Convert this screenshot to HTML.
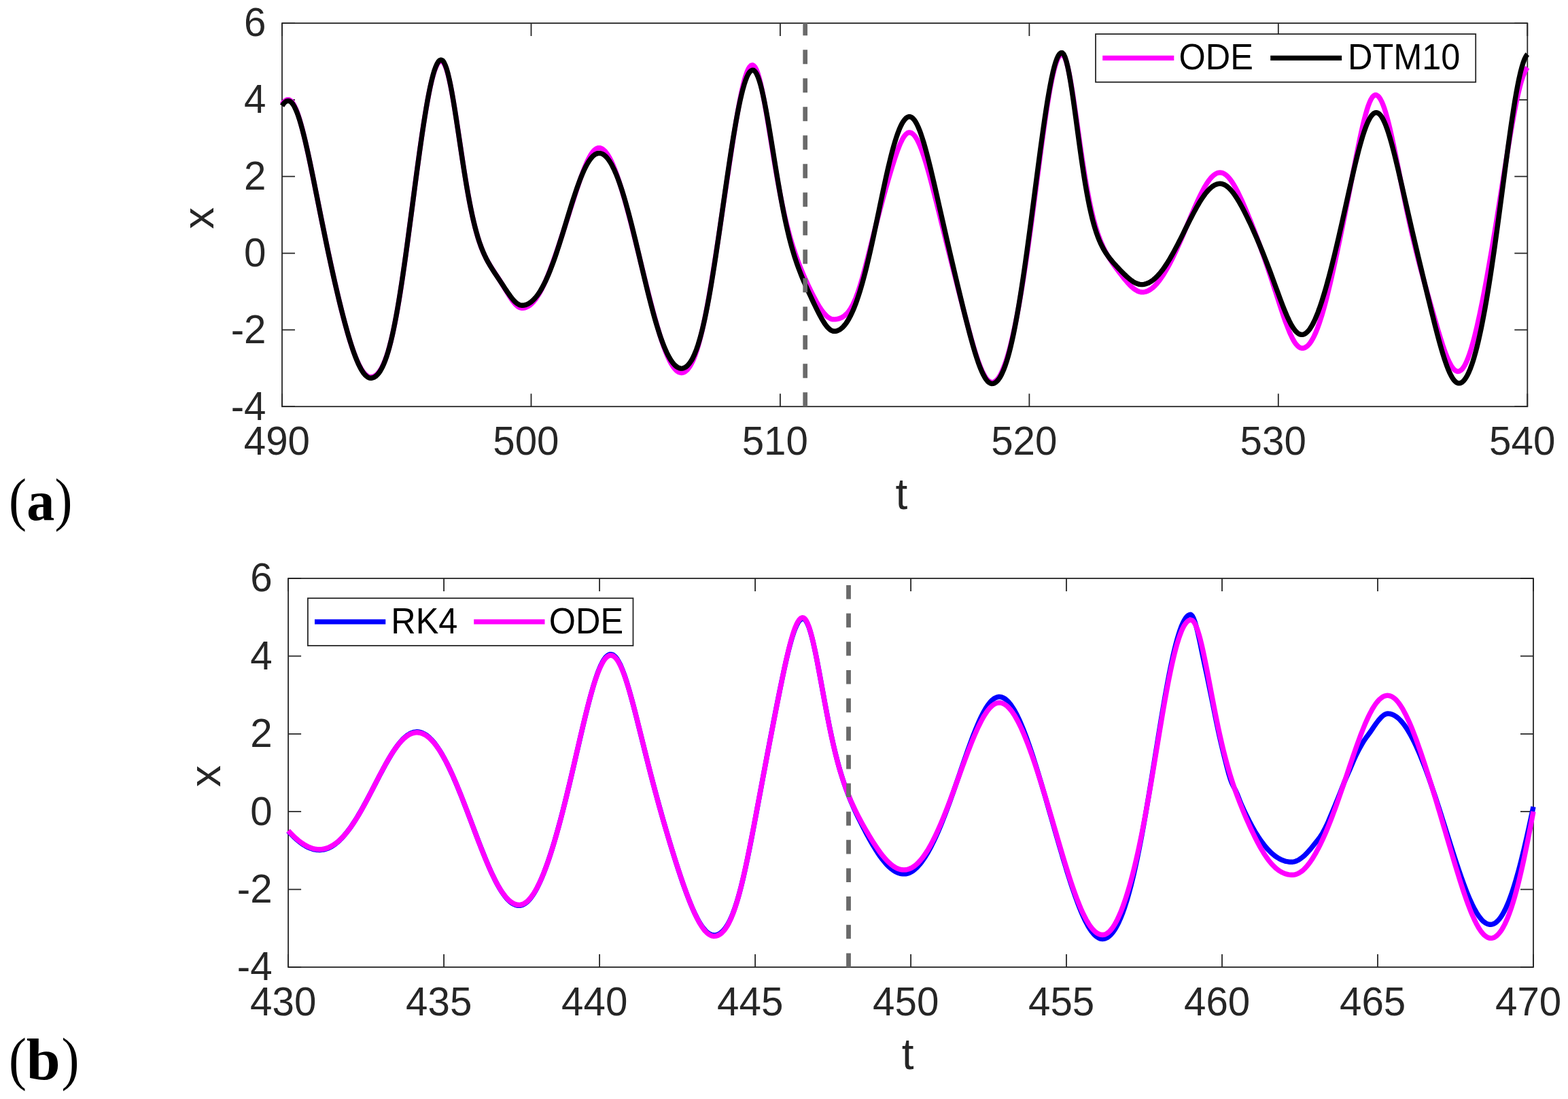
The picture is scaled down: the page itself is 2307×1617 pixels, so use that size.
<!DOCTYPE html>
<html lang="en">
<head>
<meta charset="utf-8">
<title>Figure: ODE vs DTM10 and RK4 vs ODE time series</title>
<style>
html,body{margin:0;padding:0;background:#fff;}
body{width:2307px;height:1617px;overflow:hidden;}
svg{display:block;}
</style>
</head>
<body>
<svg xmlns="http://www.w3.org/2000/svg" width="2307" height="1617" viewBox="0 0 2307 1617">
<rect width="2307" height="1617" fill="#fff"/>

<g id="panel-a">
<path d="M415.0 598.2V579.2M415.0 34.1V53.1M781.5 598.2V579.2M781.5 34.1V53.1M1147.9 598.2V579.2M1147.9 34.1V53.1M1514.4 598.2V579.2M1514.4 34.1V53.1M1880.8 598.2V579.2M1880.8 34.1V53.1M2247.3 598.2V579.2M2247.3 34.1V53.1M415.0 598.2H434.0M2247.3 598.2H2228.3M415.0 485.4H434.0M2247.3 485.4H2228.3M415.0 372.6H434.0M2247.3 372.6H2228.3M415.0 259.7H434.0M2247.3 259.7H2228.3M415.0 146.9H434.0M2247.3 146.9H2228.3M415.0 34.1H434.0M2247.3 34.1H2228.3" fill="none" stroke="#262626" stroke-width="1.8"/>
<rect x="415.0" y="34.1" width="1832.3" height="564.1" fill="none" stroke="#262626" stroke-width="1.8"/>
<g font-family='"Liberation Sans", Arial, Helvetica, sans-serif' font-size="58.3" fill="#262626">
<text x="407.4" y="669.1" text-anchor="middle">490</text>
<text x="773.9" y="669.1" text-anchor="middle">500</text>
<text x="1140.3" y="669.1" text-anchor="middle">510</text>
<text x="1506.8" y="669.1" text-anchor="middle">520</text>
<text x="1873.2" y="669.1" text-anchor="middle">530</text>
<text x="2239.7" y="669.1" text-anchor="middle">540</text>
<text x="391.5" y="617.5" text-anchor="end">-4</text>
<text x="391.5" y="504.7" text-anchor="end">-2</text>
<text x="391.5" y="391.9" text-anchor="end">0</text>
<text x="391.5" y="279.0" text-anchor="end">2</text>
<text x="391.5" y="166.2" text-anchor="end">4</text>
<text x="391.5" y="53.4" text-anchor="end">6</text>
</g>
<g fill="none" stroke-width="7.4" stroke-linejoin="round" stroke-linecap="butt">
<path stroke="#ff00ff" d="M415.0 153.4L417.0 150.7L419.0 148.7L421.0 147.3L423.0 146.6L425.0 146.6L427.0 147.5L429.0 149.2L431.0 151.8L433.0 155.3L435.0 159.5L437.0 164.4L439.0 170.1L441.0 176.4L443.0 183.4L445.0 190.8L447.0 198.8L449.0 207.2L451.0 215.9L453.0 225.0L455.0 234.3L457.0 243.8L459.0 253.5L461.0 263.3L463.0 273.2L465.0 283.2L467.0 293.1L469.0 303.1L471.0 313.0L473.0 322.9L475.0 332.7L477.0 342.5L479.0 352.2L481.0 361.7L483.0 371.2L485.0 380.6L487.0 389.8L489.0 398.9L491.0 407.9L493.0 416.7L495.0 425.4L497.0 434.0L499.0 442.4L501.0 450.6L503.0 458.6L505.0 466.4L507.0 474.0L509.0 481.3L511.0 488.4L513.0 495.3L515.0 501.8L517.0 508.1L519.0 514.0L521.0 519.6L523.0 524.9L525.0 529.7L527.0 534.2L529.0 538.3L531.0 541.9L533.0 545.2L535.0 547.9L537.0 550.2L539.0 552.1L541.0 553.5L543.0 554.4L545.0 554.8L547.0 554.7L549.0 554.2L551.0 553.4L553.0 552.0L555.0 550.3L557.0 548.0L559.0 545.3L561.0 542.1L563.0 538.3L565.0 533.9L567.0 529.0L569.0 523.3L571.0 517.1L573.0 510.1L575.0 502.5L577.0 494.1L579.0 485.0L581.0 475.3L583.0 464.8L585.0 453.7L587.0 441.9L589.0 429.6L591.0 416.6L593.0 403.2L595.0 389.3L597.0 375.1L599.0 360.5L601.0 345.6L603.0 330.6L605.0 315.4L607.0 300.2L609.0 284.9L611.0 269.8L613.0 254.8L615.0 240.0L617.0 225.4L619.0 211.3L621.0 197.5L623.0 184.3L625.0 171.6L627.0 159.6L629.0 148.3L631.0 137.8L633.0 128.1L635.0 119.4L637.0 111.7L639.0 105.1L641.0 99.6L643.0 95.2L645.0 92.1L647.0 90.2L649.0 89.6L651.0 90.4L653.0 92.8L655.0 96.8L657.0 102.2L659.0 109.1L661.0 117.3L663.0 126.6L665.0 137.0L667.0 148.3L669.0 160.3L671.0 172.9L673.0 185.9L675.0 199.2L677.0 212.6L679.0 225.9L681.0 239.0L683.0 251.8L685.0 264.2L687.0 276.1L689.0 287.5L691.0 298.3L693.0 308.4L695.0 317.8L697.0 326.6L699.0 334.7L701.0 342.2L703.0 349.1L705.0 355.3L707.0 361.1L709.0 366.4L711.0 371.2L713.0 375.6L715.0 379.7L717.0 383.5L719.0 387.0L721.0 390.4L723.0 393.6L725.0 396.7L727.0 399.8L729.0 402.9L731.0 405.9L733.0 409.0L735.0 412.1L737.0 415.3L739.0 418.5L741.0 421.8L743.0 425.1L745.0 428.4L747.0 431.7L749.0 434.9L751.0 438.0L753.0 441.0L755.0 443.7L757.0 446.2L759.0 448.4L761.0 450.2L763.0 451.7L765.0 452.7L767.0 453.2L769.0 453.3L771.0 453.1L773.0 452.6L775.0 451.8L777.0 450.8L779.0 449.5L781.0 447.9L783.0 446.0L785.0 443.9L787.0 441.5L789.0 438.8L791.0 435.8L793.0 432.6L795.0 429.1L797.0 425.4L799.0 421.4L801.0 417.1L803.0 412.6L805.0 407.9L807.0 403.0L809.0 397.9L811.0 392.6L813.0 387.2L815.0 381.6L817.0 375.9L819.0 370.1L821.0 364.2L823.0 358.2L825.0 352.1L827.0 346.0L829.0 339.8L831.0 333.6L833.0 327.4L835.0 321.1L837.0 314.8L839.0 308.5L841.0 302.3L843.0 296.1L845.0 289.9L847.0 283.7L849.0 277.7L851.0 271.7L853.0 265.9L855.0 260.3L857.0 254.8L859.0 249.5L861.0 244.6L863.0 239.9L865.0 235.5L867.0 231.6L869.0 228.1L871.0 225.0L873.0 222.4L875.0 220.4L877.0 218.9L879.0 218.0L881.0 217.6L883.0 217.8L885.0 218.5L887.0 219.7L889.0 221.3L891.0 223.4L893.0 226.0L895.0 229.1L897.0 232.5L899.0 236.4L901.0 240.7L903.0 245.4L905.0 250.4L907.0 255.7L909.0 261.4L911.0 267.4L913.0 273.6L915.0 280.1L917.0 286.9L919.0 293.8L921.0 301.0L923.0 308.3L925.0 315.8L927.0 323.4L929.0 331.1L931.0 339.0L933.0 346.9L935.0 354.9L937.0 363.0L939.0 371.1L941.0 379.2L943.0 387.4L945.0 395.5L947.0 403.7L949.0 411.8L951.0 419.8L953.0 427.8L955.0 435.7L957.0 443.4L959.0 451.1L961.0 458.6L963.0 466.0L965.0 473.1L967.0 480.1L969.0 486.8L971.0 493.3L973.0 499.6L975.0 505.5L977.0 511.2L979.0 516.5L981.0 521.4L983.0 526.0L985.0 530.2L987.0 534.0L989.0 537.4L991.0 540.4L993.0 542.9L995.0 545.0L997.0 546.6L999.0 547.7L1001.0 548.3L1003.0 548.5L1005.0 548.2L1007.0 547.4L1009.0 546.1L1011.0 544.3L1013.0 541.9L1015.0 539.1L1017.0 535.7L1019.0 531.7L1021.0 527.1L1023.0 521.9L1025.0 516.1L1027.0 509.7L1029.0 502.6L1031.0 494.9L1033.0 486.6L1035.0 477.7L1037.0 468.2L1039.0 458.2L1041.0 447.7L1043.0 436.6L1045.0 425.2L1047.0 413.3L1049.0 401.1L1051.0 388.6L1053.0 375.8L1055.0 362.8L1057.0 349.7L1059.0 336.4L1061.0 323.0L1063.0 309.5L1065.0 296.0L1067.0 282.4L1069.0 268.9L1071.0 255.5L1073.0 242.1L1075.0 228.9L1077.0 215.9L1079.0 203.1L1081.0 190.6L1083.0 178.5L1085.0 166.8L1087.0 155.7L1089.0 145.2L1091.0 135.5L1093.0 126.7L1095.0 118.7L1097.0 111.9L1099.0 106.1L1101.0 101.5L1103.0 98.3L1105.0 96.3L1107.0 95.7L1109.0 96.6L1111.0 98.9L1113.0 102.8L1115.0 108.1L1117.0 114.7L1119.0 122.6L1121.0 131.5L1123.0 141.4L1125.0 152.0L1127.0 163.3L1129.0 175.0L1131.0 187.1L1133.0 199.4L1135.0 211.7L1137.0 224.0L1139.0 236.2L1141.0 248.0L1143.0 259.6L1145.0 270.8L1147.0 281.5L1149.0 291.8L1151.0 301.6L1153.0 311.0L1155.0 319.9L1157.0 328.3L1159.0 336.2L1161.0 343.8L1163.0 350.9L1165.0 357.7L1167.0 364.1L1169.0 370.2L1171.0 376.0L1173.0 381.5L1175.0 386.8L1177.0 392.0L1179.0 396.9L1181.0 401.7L1183.0 406.4L1185.0 410.9L1187.0 415.3L1189.0 419.7L1191.0 423.9L1193.0 428.0L1195.0 432.1L1197.0 436.0L1199.0 439.8L1201.0 443.5L1203.0 447.0L1205.0 450.4L1207.0 453.5L1209.0 456.5L1211.0 459.2L1213.0 461.6L1215.0 463.8L1217.0 465.7L1219.0 467.2L1221.0 468.4L1223.0 469.3L1225.0 469.8L1227.0 469.9L1229.0 469.8L1231.0 469.6L1233.0 469.2L1235.0 468.6L1237.0 467.8L1239.0 466.9L1241.0 465.6L1243.0 464.1L1245.0 462.3L1247.0 460.2L1249.0 457.7L1251.0 454.8L1253.0 451.4L1255.0 447.6L1257.0 443.3L1259.0 438.6L1261.0 433.4L1263.0 427.7L1265.0 421.6L1267.0 415.1L1269.0 408.2L1271.0 401.0L1273.0 393.6L1275.0 385.9L1277.0 378.1L1279.0 370.1L1281.0 362.1L1283.0 354.1L1285.0 346.2L1287.0 338.2L1289.0 330.4L1291.0 322.6L1293.0 315.0L1295.0 307.4L1297.0 300.0L1299.0 292.6L1301.0 285.4L1303.0 278.2L1305.0 271.2L1307.0 264.2L1309.0 257.4L1311.0 250.7L1313.0 244.2L1315.0 237.8L1317.0 231.7L1319.0 225.8L1321.0 220.3L1323.0 215.1L1325.0 210.4L1327.0 206.3L1329.0 202.6L1331.0 199.7L1333.0 197.4L1335.0 195.8L1337.0 195.0L1339.0 195.0L1341.0 195.6L1343.0 197.0L1345.0 199.0L1347.0 201.6L1349.0 204.9L1351.0 208.8L1353.0 213.2L1355.0 218.1L1357.0 223.6L1359.0 229.4L1361.0 235.7L1363.0 242.3L1365.0 249.2L1367.0 256.3L1369.0 263.7L1371.0 271.3L1373.0 279.0L1375.0 286.8L1377.0 294.7L1379.0 302.7L1381.0 310.7L1383.0 318.7L1385.0 326.8L1387.0 334.8L1389.0 342.8L1391.0 350.8L1393.0 358.8L1395.0 366.8L1397.0 374.7L1399.0 382.7L1401.0 390.6L1403.0 398.5L1405.0 406.4L1407.0 414.2L1409.0 422.1L1411.0 430.0L1413.0 437.8L1415.0 445.6L1417.0 453.4L1419.0 461.1L1421.0 468.7L1423.0 476.3L1425.0 483.8L1427.0 491.1L1429.0 498.3L1431.0 505.3L1433.0 512.1L1435.0 518.6L1437.0 524.8L1439.0 530.7L1441.0 536.1L1443.0 541.2L1445.0 545.8L1447.0 549.9L1449.0 553.5L1451.0 556.5L1453.0 558.9L1455.0 560.7L1457.0 561.9L1459.0 562.5L1461.0 562.4L1463.0 561.7L1465.0 560.4L1467.0 558.5L1469.0 556.0L1471.0 552.9L1473.0 549.2L1475.0 544.9L1477.0 540.0L1479.0 534.6L1481.0 528.6L1483.0 522.0L1485.0 514.9L1487.0 507.2L1489.0 498.9L1491.0 490.2L1493.0 480.8L1495.0 471.0L1497.0 460.7L1499.0 449.8L1501.0 438.4L1503.0 426.6L1505.0 414.3L1507.0 401.5L1509.0 388.3L1511.0 374.7L1513.0 360.7L1515.0 346.3L1517.0 331.7L1519.0 316.8L1521.0 301.6L1523.0 286.3L1525.0 271.0L1527.0 255.6L1529.0 240.2L1531.0 225.0L1533.0 210.1L1535.0 195.4L1537.0 181.2L1539.0 167.5L1541.0 154.5L1543.0 142.2L1545.0 130.7L1547.0 120.2L1549.0 110.8L1551.0 102.5L1553.0 95.3L1555.0 89.5L1557.0 85.0L1559.0 82.0L1561.0 80.3L1563.0 80.1L1565.0 81.9L1567.0 85.6L1569.0 91.2L1571.0 98.6L1573.0 107.7L1575.0 118.1L1577.0 129.8L1579.0 142.4L1581.0 155.7L1583.0 169.5L1585.0 183.6L1587.0 197.8L1589.0 211.9L1591.0 225.7L1593.0 239.0L1595.0 251.9L1597.0 264.1L1599.0 275.7L1601.0 286.5L1603.0 296.7L1605.0 306.1L1607.0 314.8L1609.0 322.9L1611.0 330.2L1613.0 337.0L1615.0 343.2L1617.0 348.9L1619.0 354.1L1621.0 358.9L1623.0 363.3L1625.0 367.4L1627.0 371.2L1629.0 374.8L1631.0 378.1L1633.0 381.3L1635.0 384.3L1637.0 387.3L1639.0 390.1L1641.0 392.9L1643.0 395.6L1645.0 398.3L1647.0 400.9L1649.0 403.5L1651.0 406.1L1653.0 408.6L1655.0 411.1L1657.0 413.5L1659.0 415.8L1661.0 418.0L1663.0 420.1L1665.0 422.0L1667.0 423.8L1669.0 425.4L1671.0 426.7L1673.0 427.9L1675.0 428.8L1677.0 429.4L1679.0 429.8L1681.0 429.9L1683.0 429.7L1685.0 429.4L1687.0 428.8L1689.0 427.9L1691.0 426.9L1693.0 425.6L1695.0 424.1L1697.0 422.5L1699.0 420.6L1701.0 418.5L1703.0 416.2L1705.0 413.7L1707.0 411.0L1709.0 408.2L1711.0 405.2L1713.0 402.0L1715.0 398.7L1717.0 395.2L1719.0 391.6L1721.0 387.9L1723.0 384.0L1725.0 380.0L1727.0 375.9L1729.0 371.7L1731.0 367.4L1733.0 363.0L1735.0 358.5L1737.0 354.0L1739.0 349.4L1741.0 344.7L1743.0 340.0L1745.0 335.3L1747.0 330.5L1749.0 325.8L1751.0 321.0L1753.0 316.3L1755.0 311.6L1757.0 307.0L1759.0 302.4L1761.0 298.0L1763.0 293.6L1765.0 289.4L1767.0 285.3L1769.0 281.4L1771.0 277.6L1773.0 274.1L1775.0 270.8L1777.0 267.8L1779.0 265.0L1781.0 262.5L1783.0 260.2L1785.0 258.4L1787.0 256.8L1789.0 255.5L1791.0 254.6L1793.0 254.1L1795.0 253.9L1797.0 254.1L1799.0 254.6L1801.0 255.5L1803.0 256.8L1805.0 258.5L1807.0 260.4L1809.0 262.7L1811.0 265.3L1813.0 268.2L1815.0 271.4L1817.0 274.8L1819.0 278.5L1821.0 282.3L1823.0 286.3L1825.0 290.5L1827.0 294.9L1829.0 299.3L1831.0 303.9L1833.0 308.6L1835.0 313.4L1837.0 318.3L1839.0 323.2L1841.0 328.2L1843.0 333.3L1845.0 338.4L1847.0 343.6L1849.0 348.9L1851.0 354.2L1853.0 359.6L1855.0 365.1L1857.0 370.7L1859.0 376.3L1861.0 382.0L1863.0 387.8L1865.0 393.6L1867.0 399.6L1869.0 405.6L1871.0 411.7L1873.0 417.8L1875.0 424.0L1877.0 430.2L1879.0 436.4L1881.0 442.6L1883.0 448.8L1885.0 454.8L1887.0 460.8L1889.0 466.7L1891.0 472.4L1893.0 477.8L1895.0 483.0L1897.0 487.9L1899.0 492.5L1901.0 496.7L1903.0 500.5L1905.0 503.8L1907.0 506.6L1909.0 508.8L1911.0 510.6L1913.0 511.7L1915.0 512.3L1917.0 512.3L1919.0 511.9L1921.0 510.9L1923.0 509.5L1925.0 507.7L1927.0 505.3L1929.0 502.5L1931.0 499.2L1933.0 495.4L1935.0 491.2L1937.0 486.5L1939.0 481.3L1941.0 475.7L1943.0 469.7L1945.0 463.3L1947.0 456.5L1949.0 449.3L1951.0 441.7L1953.0 433.9L1955.0 425.7L1957.0 417.3L1959.0 408.7L1961.0 399.8L1963.0 390.8L1965.0 381.6L1967.0 372.2L1969.0 362.8L1971.0 353.2L1973.0 343.5L1975.0 333.7L1977.0 323.8L1979.0 313.8L1981.0 303.8L1983.0 293.7L1985.0 283.5L1987.0 273.3L1989.0 263.1L1991.0 252.8L1993.0 242.6L1995.0 232.5L1997.0 222.5L1999.0 212.7L2001.0 203.1L2003.0 193.9L2005.0 185.1L2007.0 176.8L2009.0 169.2L2011.0 162.2L2013.0 156.0L2015.0 150.7L2017.0 146.4L2019.0 143.1L2021.0 140.9L2023.0 139.8L2025.0 139.8L2027.0 140.9L2029.0 142.9L2031.0 145.9L2033.0 149.7L2035.0 154.5L2037.0 160.1L2039.0 166.4L2041.0 173.5L2043.0 181.2L2045.0 189.4L2047.0 198.1L2049.0 207.3L2051.0 216.7L2053.0 226.4L2055.0 236.3L2057.0 246.3L2059.0 256.4L2061.0 266.4L2063.0 276.4L2065.0 286.3L2067.0 296.1L2069.0 305.7L2071.0 315.1L2073.0 324.3L2075.0 333.3L2077.0 342.1L2079.0 350.7L2081.0 359.0L2083.0 367.2L2085.0 375.2L2087.0 383.0L2089.0 390.7L2091.0 398.2L2093.0 405.6L2095.0 412.9L2097.0 420.2L2099.0 427.3L2101.0 434.5L2103.0 441.6L2105.0 448.6L2107.0 455.6L2109.0 462.6L2111.0 469.5L2113.0 476.4L2115.0 483.2L2117.0 489.9L2119.0 496.4L2121.0 502.7L2123.0 508.8L2125.0 514.6L2127.0 520.1L2129.0 525.2L2131.0 529.9L2133.0 534.0L2135.0 537.7L2137.0 540.7L2139.0 543.2L2141.0 545.0L2143.0 546.1L2145.0 546.5L2147.0 546.2L2149.0 545.1L2151.0 543.4L2153.0 540.8L2155.0 537.6L2157.0 533.7L2159.0 529.1L2161.0 523.9L2163.0 518.0L2165.0 511.6L2167.0 504.6L2169.0 497.1L2171.0 489.2L2173.0 480.8L2175.0 471.9L2177.0 462.7L2179.0 453.1L2181.0 443.2L2183.0 432.9L2185.0 422.4L2187.0 411.6L2189.0 400.5L2191.0 389.2L2193.0 377.7L2195.0 366.0L2197.0 354.1L2199.0 342.0L2201.0 329.8L2203.0 317.5L2205.0 305.0L2207.0 292.4L2209.0 279.8L2211.0 267.2L2213.0 254.5L2215.0 242.0L2217.0 229.5L2219.0 217.2L2221.0 205.1L2223.0 193.3L2225.0 181.9L2227.0 170.8L2229.0 160.3L2231.0 150.3L2233.0 141.0L2235.0 132.4L2237.0 124.6L2239.0 117.6L2241.0 111.6L2243.0 106.6L2245.0 102.6L2247.0 99.7L2247.3 99.3"/>
<path stroke="#000" d="M415.0 155.7L417.0 152.8L419.0 150.6L421.0 149.1L423.0 148.4L425.0 148.4L427.0 149.2L429.0 150.9L431.0 153.4L433.0 156.7L435.0 160.8L437.0 165.5L439.0 171.0L441.0 177.2L443.0 183.9L445.0 191.2L447.0 199.0L449.0 207.2L451.0 215.8L453.0 224.8L455.0 234.0L457.0 243.5L459.0 253.2L461.0 263.0L463.0 272.9L465.0 282.9L467.0 292.9L469.0 302.9L471.0 313.0L473.0 322.9L475.0 332.8L477.0 342.6L479.0 352.3L481.0 362.0L483.0 371.4L485.0 380.8L487.0 390.0L489.0 399.1L491.0 408.1L493.0 416.9L495.0 425.5L497.0 434.0L499.0 442.3L501.0 450.5L503.0 458.4L505.0 466.2L507.0 473.8L509.0 481.1L511.0 488.2L513.0 495.1L515.0 501.7L517.0 508.0L519.0 514.1L521.0 519.8L523.0 525.1L525.0 530.1L527.0 534.8L529.0 539.0L531.0 542.8L533.0 546.2L535.0 549.1L537.0 551.5L539.0 553.4L541.0 554.9L543.0 555.8L545.0 556.3L547.0 556.2L549.0 555.7L551.0 554.8L553.0 553.4L555.0 551.6L557.0 549.3L559.0 546.5L561.0 543.1L563.0 539.2L565.0 534.7L567.0 529.6L569.0 523.9L571.0 517.5L573.0 510.4L575.0 502.6L577.0 494.2L579.0 485.0L581.0 475.1L583.0 464.6L585.0 453.4L587.0 441.6L589.0 429.2L591.0 416.3L593.0 402.9L595.0 389.1L597.0 374.9L599.0 360.4L601.0 345.6L603.0 330.6L605.0 315.5L607.0 300.4L609.0 285.2L611.0 270.1L613.0 255.1L615.0 240.3L617.0 225.8L619.0 211.6L621.0 197.8L623.0 184.5L625.0 171.7L627.0 159.5L629.0 148.0L631.0 137.4L633.0 127.5L635.0 118.7L637.0 110.8L639.0 104.0L641.0 98.4L643.0 93.9L645.0 90.7L647.0 88.7L649.0 88.1L651.0 88.9L653.0 91.4L655.0 95.5L657.0 101.1L659.0 108.1L661.0 116.5L663.0 126.0L665.0 136.6L667.0 148.1L669.0 160.3L671.0 173.1L673.0 186.2L675.0 199.5L677.0 212.9L679.0 226.3L681.0 239.4L683.0 252.1L685.0 264.5L687.0 276.3L689.0 287.6L691.0 298.3L693.0 308.3L695.0 317.7L697.0 326.4L699.0 334.5L701.0 341.9L703.0 348.8L705.0 355.1L707.0 360.9L709.0 366.2L711.0 371.0L713.0 375.5L715.0 379.7L717.0 383.6L719.0 387.2L721.0 390.6L723.0 393.9L725.0 397.1L727.0 400.2L729.0 403.2L731.0 406.2L733.0 409.2L735.0 412.2L737.0 415.2L739.0 418.3L741.0 421.3L743.0 424.4L745.0 427.4L747.0 430.3L749.0 433.2L751.0 436.0L753.0 438.6L755.0 441.0L757.0 443.2L759.0 445.1L761.0 446.7L763.0 447.9L765.0 448.8L767.0 449.2L769.0 449.3L771.0 449.1L773.0 448.7L775.0 448.0L777.0 447.1L779.0 445.9L781.0 444.5L783.0 442.9L785.0 441.0L787.0 438.9L789.0 436.5L791.0 433.9L793.0 431.0L795.0 427.9L797.0 424.5L799.0 420.8L801.0 416.9L803.0 412.8L805.0 408.4L807.0 403.7L809.0 398.9L811.0 393.7L813.0 388.4L815.0 382.9L817.0 377.2L819.0 371.3L821.0 365.2L823.0 359.0L825.0 352.7L827.0 346.3L829.0 339.8L831.0 333.3L833.0 326.7L835.0 320.2L837.0 313.6L839.0 307.1L841.0 300.7L843.0 294.4L845.0 288.3L847.0 282.3L849.0 276.5L851.0 270.9L853.0 265.5L855.0 260.4L857.0 255.6L859.0 251.0L861.0 246.8L863.0 243.0L865.0 239.5L867.0 236.3L869.0 233.5L871.0 231.2L873.0 229.2L875.0 227.6L877.0 226.5L879.0 225.7L881.0 225.4L883.0 225.5L885.0 226.0L887.0 226.9L889.0 228.2L891.0 229.9L893.0 232.0L895.0 234.5L897.0 237.4L899.0 240.6L901.0 244.3L903.0 248.3L905.0 252.7L907.0 257.4L909.0 262.5L911.0 267.9L913.0 273.7L915.0 279.7L917.0 286.1L919.0 292.8L921.0 299.7L923.0 306.9L925.0 314.3L927.0 321.9L929.0 329.7L931.0 337.6L933.0 345.8L935.0 354.0L937.0 362.3L939.0 370.7L941.0 379.1L943.0 387.6L945.0 396.0L947.0 404.4L949.0 412.7L951.0 421.0L953.0 429.1L955.0 437.1L957.0 444.9L959.0 452.5L961.0 460.0L963.0 467.2L965.0 474.1L967.0 480.8L969.0 487.2L971.0 493.3L973.0 499.1L975.0 504.5L977.0 509.6L979.0 514.4L981.0 518.8L983.0 522.9L985.0 526.5L987.0 529.8L989.0 532.7L991.0 535.3L993.0 537.4L995.0 539.1L997.0 540.5L999.0 541.4L1001.0 542.0L1003.0 542.1L1005.0 541.8L1007.0 541.1L1009.0 540.0L1011.0 538.4L1013.0 536.3L1015.0 533.8L1017.0 530.8L1019.0 527.3L1021.0 523.2L1023.0 518.5L1025.0 513.3L1027.0 507.4L1029.0 500.9L1031.0 493.8L1033.0 486.1L1035.0 477.7L1037.0 468.7L1039.0 459.1L1041.0 448.9L1043.0 438.1L1045.0 426.8L1047.0 415.0L1049.0 402.7L1051.0 390.1L1053.0 377.1L1055.0 363.8L1057.0 350.2L1059.0 336.5L1061.0 322.6L1063.0 308.7L1065.0 294.7L1067.0 280.9L1069.0 267.1L1071.0 253.5L1073.0 240.0L1075.0 226.9L1077.0 214.1L1079.0 201.7L1081.0 189.8L1083.0 178.4L1085.0 167.5L1087.0 157.3L1089.0 147.8L1091.0 139.1L1093.0 131.2L1095.0 124.2L1097.0 118.1L1099.0 113.0L1101.0 108.9L1103.0 105.9L1105.0 104.0L1107.0 103.1L1109.0 103.5L1111.0 105.2L1113.0 108.2L1115.0 112.6L1117.0 118.2L1119.0 124.9L1121.0 132.7L1123.0 141.5L1125.0 151.2L1127.0 161.6L1129.0 172.7L1131.0 184.2L1133.0 196.2L1135.0 208.4L1137.0 220.7L1139.0 233.0L1141.0 245.3L1143.0 257.4L1145.0 269.2L1147.0 280.7L1149.0 291.8L1151.0 302.5L1153.0 312.7L1155.0 322.5L1157.0 331.7L1159.0 340.5L1161.0 348.8L1163.0 356.6L1165.0 363.9L1167.0 370.8L1169.0 377.3L1171.0 383.4L1173.0 389.3L1175.0 394.8L1177.0 400.0L1179.0 405.1L1181.0 410.0L1183.0 414.7L1185.0 419.3L1187.0 423.7L1189.0 428.2L1191.0 432.5L1193.0 436.8L1195.0 441.1L1197.0 445.3L1199.0 449.5L1201.0 453.6L1203.0 457.6L1205.0 461.5L1207.0 465.3L1209.0 468.9L1211.0 472.3L1213.0 475.5L1215.0 478.3L1217.0 480.9L1219.0 483.0L1221.0 484.8L1223.0 486.1L1225.0 487.0L1227.0 487.4L1229.0 487.3L1231.0 487.0L1233.0 486.3L1235.0 485.3L1237.0 484.0L1239.0 482.3L1241.0 480.3L1243.0 478.0L1245.0 475.4L1247.0 472.4L1249.0 469.0L1251.0 465.3L1253.0 461.2L1255.0 456.8L1257.0 452.0L1259.0 446.8L1261.0 441.3L1263.0 435.4L1265.0 429.1L1267.0 422.4L1269.0 415.5L1271.0 408.1L1273.0 400.5L1275.0 392.5L1277.0 384.2L1279.0 375.7L1281.0 366.9L1283.0 357.9L1285.0 348.7L1287.0 339.3L1289.0 329.8L1291.0 320.3L1293.0 310.7L1295.0 301.1L1297.0 291.5L1299.0 282.0L1301.0 272.7L1303.0 263.5L1305.0 254.5L1307.0 245.8L1309.0 237.5L1311.0 229.4L1313.0 221.8L1315.0 214.5L1317.0 207.8L1319.0 201.5L1321.0 195.8L1323.0 190.6L1325.0 186.0L1327.0 182.0L1329.0 178.7L1331.0 176.0L1333.0 173.9L1335.0 172.5L1337.0 171.8L1339.0 171.8L1341.0 172.5L1343.0 174.0L1345.0 176.2L1347.0 179.1L1349.0 182.7L1351.0 187.0L1353.0 191.8L1355.0 197.3L1357.0 203.3L1359.0 209.7L1361.0 216.6L1363.0 223.9L1365.0 231.5L1367.0 239.4L1369.0 247.5L1371.0 255.8L1373.0 264.3L1375.0 272.9L1377.0 281.6L1379.0 290.4L1381.0 299.2L1383.0 308.0L1385.0 316.8L1387.0 325.6L1389.0 334.3L1391.0 343.1L1393.0 351.8L1395.0 360.4L1397.0 369.0L1399.0 377.6L1401.0 386.1L1403.0 394.6L1405.0 403.0L1407.0 411.5L1409.0 419.8L1411.0 428.1L1413.0 436.4L1415.0 444.6L1417.0 452.8L1419.0 460.9L1421.0 468.8L1423.0 476.7L1425.0 484.4L1427.0 492.0L1429.0 499.4L1431.0 506.6L1433.0 513.5L1435.0 520.1L1437.0 526.4L1439.0 532.4L1441.0 537.9L1443.0 543.1L1445.0 547.7L1447.0 551.8L1449.0 555.4L1451.0 558.5L1453.0 560.9L1455.0 562.7L1457.0 563.9L1459.0 564.5L1461.0 564.4L1463.0 563.7L1465.0 562.6L1467.0 560.8L1469.0 558.5L1471.0 555.6L1473.0 552.1L1475.0 547.9L1477.0 543.2L1479.0 537.9L1481.0 531.9L1483.0 525.2L1485.0 517.9L1487.0 510.0L1489.0 501.4L1491.0 492.1L1493.0 482.3L1495.0 471.8L1497.0 460.7L1499.0 449.0L1501.0 436.9L1503.0 424.2L1505.0 411.0L1507.0 397.5L1509.0 383.5L1511.0 369.2L1513.0 354.6L1515.0 339.7L1517.0 324.7L1519.0 309.5L1521.0 294.2L1523.0 278.8L1525.0 263.5L1527.0 248.2L1529.0 233.1L1531.0 218.1L1533.0 203.5L1535.0 189.2L1537.0 175.4L1539.0 162.1L1541.0 149.4L1543.0 137.5L1545.0 126.3L1547.0 116.1L1549.0 107.0L1551.0 98.9L1553.0 92.0L1555.0 86.4L1557.0 82.1L1559.0 79.2L1561.0 77.7L1563.0 77.7L1565.0 79.8L1567.0 84.1L1569.0 90.4L1571.0 98.6L1573.0 108.5L1575.0 119.9L1577.0 132.4L1579.0 146.0L1581.0 160.2L1583.0 174.8L1585.0 189.7L1587.0 204.5L1589.0 219.0L1591.0 233.2L1593.0 246.8L1595.0 259.7L1597.0 272.0L1599.0 283.4L1601.0 294.1L1603.0 304.0L1605.0 313.0L1607.0 321.3L1609.0 328.9L1611.0 335.7L1613.0 342.0L1615.0 347.6L1617.0 352.7L1619.0 357.3L1621.0 361.5L1623.0 365.3L1625.0 368.8L1627.0 372.1L1629.0 375.0L1631.0 377.8L1633.0 380.4L1635.0 382.9L1637.0 385.3L1639.0 387.6L1641.0 389.8L1643.0 392.0L1645.0 394.1L1647.0 396.2L1649.0 398.3L1651.0 400.3L1653.0 402.3L1655.0 404.3L1657.0 406.2L1659.0 408.0L1661.0 409.7L1663.0 411.4L1665.0 412.9L1667.0 414.3L1669.0 415.5L1671.0 416.5L1673.0 417.3L1675.0 418.0L1677.0 418.4L1679.0 418.6L1681.0 418.6L1683.0 418.3L1685.0 417.9L1687.0 417.3L1689.0 416.6L1691.0 415.6L1693.0 414.4L1695.0 413.1L1697.0 411.6L1699.0 409.9L1701.0 408.1L1703.0 406.0L1705.0 403.9L1707.0 401.5L1709.0 399.0L1711.0 396.4L1713.0 393.6L1715.0 390.6L1717.0 387.6L1719.0 384.4L1721.0 381.1L1723.0 377.6L1725.0 374.1L1727.0 370.5L1729.0 366.8L1731.0 363.0L1733.0 359.2L1735.0 355.3L1737.0 351.3L1739.0 347.3L1741.0 343.3L1743.0 339.2L1745.0 335.2L1747.0 331.2L1749.0 327.2L1751.0 323.2L1753.0 319.3L1755.0 315.4L1757.0 311.6L1759.0 307.9L1761.0 304.3L1763.0 300.8L1765.0 297.4L1767.0 294.2L1769.0 291.2L1771.0 288.3L1773.0 285.5L1775.0 283.0L1777.0 280.7L1779.0 278.6L1781.0 276.7L1783.0 275.0L1785.0 273.6L1787.0 272.4L1789.0 271.5L1791.0 270.8L1793.0 270.4L1795.0 270.3L1797.0 270.4L1799.0 270.9L1801.0 271.6L1803.0 272.7L1805.0 274.0L1807.0 275.6L1809.0 277.5L1811.0 279.6L1813.0 282.0L1815.0 284.6L1817.0 287.4L1819.0 290.4L1821.0 293.5L1823.0 296.9L1825.0 300.4L1827.0 304.0L1829.0 307.7L1831.0 311.6L1833.0 315.6L1835.0 319.6L1837.0 323.8L1839.0 328.0L1841.0 332.3L1843.0 336.7L1845.0 341.2L1847.0 345.7L1849.0 350.3L1851.0 355.0L1853.0 359.7L1855.0 364.6L1857.0 369.5L1859.0 374.4L1861.0 379.5L1863.0 384.6L1865.0 389.8L1867.0 395.1L1869.0 400.4L1871.0 405.8L1873.0 411.2L1875.0 416.7L1877.0 422.2L1879.0 427.6L1881.0 433.1L1883.0 438.5L1885.0 443.8L1887.0 449.0L1889.0 454.1L1891.0 459.0L1893.0 463.7L1895.0 468.2L1897.0 472.4L1899.0 476.3L1901.0 479.8L1903.0 482.9L1905.0 485.7L1907.0 488.0L1909.0 489.8L1911.0 491.2L1913.0 492.0L1915.0 492.4L1917.0 492.2L1919.0 491.6L1921.0 490.5L1923.0 488.8L1925.0 486.7L1927.0 484.2L1929.0 481.1L1931.0 477.7L1933.0 473.8L1935.0 469.5L1937.0 464.8L1939.0 459.8L1941.0 454.4L1943.0 448.6L1945.0 442.6L1947.0 436.2L1949.0 429.6L1951.0 422.7L1953.0 415.6L1955.0 408.2L1957.0 400.7L1959.0 392.9L1961.0 384.9L1963.0 376.8L1965.0 368.5L1967.0 360.1L1969.0 351.6L1971.0 342.9L1973.0 334.1L1975.0 325.3L1977.0 316.3L1979.0 307.4L1981.0 298.4L1983.0 289.4L1985.0 280.4L1987.0 271.5L1989.0 262.7L1991.0 254.0L1993.0 245.5L1995.0 237.1L1997.0 229.0L1999.0 221.2L2001.0 213.8L2003.0 206.7L2005.0 200.0L2007.0 193.8L2009.0 188.2L2011.0 183.0L2013.0 178.5L2015.0 174.7L2017.0 171.4L2019.0 168.9L2021.0 167.1L2023.0 166.0L2025.0 165.7L2027.0 166.1L2029.0 167.4L2031.0 169.4L2033.0 172.1L2035.0 175.6L2037.0 179.8L2039.0 184.7L2041.0 190.1L2043.0 196.1L2045.0 202.6L2047.0 209.6L2049.0 216.9L2051.0 224.6L2053.0 232.6L2055.0 240.8L2057.0 249.2L2059.0 257.8L2061.0 266.5L2063.0 275.2L2065.0 284.0L2067.0 292.8L2069.0 301.6L2071.0 310.4L2073.0 319.1L2075.0 327.8L2077.0 336.5L2079.0 345.1L2081.0 353.6L2083.0 362.1L2085.0 370.6L2087.0 379.0L2089.0 387.4L2091.0 395.7L2093.0 404.0L2095.0 412.3L2097.0 420.6L2099.0 428.8L2101.0 437.0L2103.0 445.2L2105.0 453.4L2107.0 461.4L2109.0 469.4L2111.0 477.3L2113.0 485.1L2115.0 492.7L2117.0 500.2L2119.0 507.4L2121.0 514.4L2123.0 521.1L2125.0 527.5L2127.0 533.4L2129.0 539.0L2131.0 544.1L2133.0 548.7L2135.0 552.7L2137.0 556.2L2139.0 559.0L2141.0 561.2L2143.0 562.8L2145.0 563.7L2147.0 563.9L2149.0 563.5L2151.0 562.4L2153.0 560.7L2155.0 558.4L2157.0 555.5L2159.0 552.0L2161.0 547.8L2163.0 543.1L2165.0 537.8L2167.0 531.8L2169.0 525.3L2171.0 518.2L2173.0 510.5L2175.0 502.3L2177.0 493.5L2179.0 484.2L2181.0 474.3L2183.0 463.9L2185.0 453.0L2187.0 441.6L2189.0 429.7L2191.0 417.4L2193.0 404.6L2195.0 391.4L2197.0 377.8L2199.0 363.9L2201.0 349.6L2203.0 335.1L2205.0 320.3L2207.0 305.3L2209.0 290.2L2211.0 275.1L2213.0 259.9L2215.0 244.8L2217.0 229.9L2219.0 215.1L2221.0 200.7L2223.0 186.6L2225.0 173.1L2227.0 160.1L2229.0 147.7L2231.0 136.1L2233.0 125.4L2235.0 115.6L2237.0 106.8L2239.0 99.1L2241.0 92.5L2243.0 87.1L2245.0 83.0L2247.0 80.1L2247.3 79.8"/>
</g>
<path d="M1184.7 598.2V34.1" fill="none" stroke="#6a6a6a" stroke-width="6.7" stroke-dasharray="20.9 21.1"/>
<rect x="1612.0" y="50.1" width="559.2" height="70.7" fill="#fff" stroke="#262626" stroke-width="1.8"/>
<path d="M1622.2 85.4H1727.3" stroke="#ff00ff" stroke-width="7.3" fill="none"/>
<path d="M1869.2 85.4H1974.1" stroke="#000" stroke-width="7.3" fill="none"/>
<g font-family='"Liberation Sans", Arial, Helvetica, sans-serif' font-size="52.0" fill="#000"><text transform="translate(1734.6 102.3) scale(0.97 1.015)">ODE</text><text transform="translate(1983.0 102.3) scale(0.97 1.015)">DTM10</text></g>
<g font-family='"Liberation Sans", Arial, Helvetica, sans-serif' font-size="64.0" fill="#262626"><text x="1326.5" y="749.0" text-anchor="middle">t</text><text transform="translate(313.6 321) rotate(-90)" text-anchor="middle">x</text></g>
<g font-family='"Liberation Serif", "DejaVu Serif", serif' fill="#000"><text transform="translate(13.0 763.5) scale(0.9 1)" font-size="86.7">(</text><text transform="translate(39.3 765.0) scale(0.965 1)" font-size="85.2" font-weight="bold">a</text><text transform="translate(80.5 763.5) scale(0.9 1)" font-size="86.7">)</text></g>
</g>
<g id="panel-b">
<path d="M424.1 1423.0V1404.0M424.1 851.0V870.0M653.1 1423.0V1404.0M653.1 851.0V870.0M882.1 1423.0V1404.0M882.1 851.0V870.0M1111.1 1423.0V1404.0M1111.1 851.0V870.0M1340.1 1423.0V1404.0M1340.1 851.0V870.0M1569.0 1423.0V1404.0M1569.0 851.0V870.0M1798.0 1423.0V1404.0M1798.0 851.0V870.0M2027.0 1423.0V1404.0M2027.0 851.0V870.0M2256.0 1423.0V1404.0M2256.0 851.0V870.0M424.1 1423.0H443.1M2256.0 1423.0H2237.0M424.1 1308.6H443.1M2256.0 1308.6H2237.0M424.1 1194.2H443.1M2256.0 1194.2H2237.0M424.1 1079.8H443.1M2256.0 1079.8H2237.0M424.1 965.4H443.1M2256.0 965.4H2237.0M424.1 851.0H443.1M2256.0 851.0H2237.0" fill="none" stroke="#262626" stroke-width="1.8"/>
<rect x="424.1" y="851.0" width="1831.9" height="572.0" fill="none" stroke="#262626" stroke-width="1.8"/>
<g font-family='"Liberation Sans", Arial, Helvetica, sans-serif' font-size="58.3" fill="#262626">
<text x="416.7" y="1493.9" text-anchor="middle">430</text>
<text x="645.7" y="1493.9" text-anchor="middle">435</text>
<text x="874.7" y="1493.9" text-anchor="middle">440</text>
<text x="1103.7" y="1493.9" text-anchor="middle">445</text>
<text x="1332.7" y="1493.9" text-anchor="middle">450</text>
<text x="1561.6" y="1493.9" text-anchor="middle">455</text>
<text x="1790.6" y="1493.9" text-anchor="middle">460</text>
<text x="2019.6" y="1493.9" text-anchor="middle">465</text>
<text x="2248.6" y="1493.9" text-anchor="middle">470</text>
<text x="400.6" y="1442.3" text-anchor="end">-4</text>
<text x="400.6" y="1327.9" text-anchor="end">-2</text>
<text x="400.6" y="1213.5" text-anchor="end">0</text>
<text x="400.6" y="1099.1" text-anchor="end">2</text>
<text x="400.6" y="984.7" text-anchor="end">4</text>
<text x="400.6" y="870.3" text-anchor="end">6</text>
</g>
<g fill="none" stroke-width="7.4" stroke-linejoin="round" stroke-linecap="butt">
<path stroke="#0000ff" d="M424.1 1222.9L426.1 1225.1L428.1 1227.2L430.1 1229.2L432.1 1231.2L434.1 1233.1L436.1 1234.9L438.1 1236.6L440.1 1238.3L442.1 1239.8L444.1 1241.3L446.1 1242.6L448.1 1243.9L450.1 1245.1L452.1 1246.1L454.1 1247.1L456.1 1247.9L458.1 1248.6L460.1 1249.3L462.1 1249.8L464.1 1250.2L466.1 1250.5L468.1 1250.6L470.1 1250.7L472.1 1250.6L474.1 1250.4L476.1 1250.1L478.1 1249.6L480.1 1249.0L482.1 1248.3L484.1 1247.5L486.1 1246.5L488.1 1245.4L490.1 1244.1L492.1 1242.7L494.1 1241.2L496.1 1239.6L498.1 1237.9L500.1 1236.0L502.1 1234.0L504.1 1231.9L506.1 1229.6L508.1 1227.3L510.1 1224.8L512.1 1222.2L514.1 1219.6L516.1 1216.8L518.1 1213.9L520.1 1210.9L522.1 1207.8L524.1 1204.6L526.1 1201.4L528.1 1198.0L530.1 1194.6L532.1 1191.1L534.1 1187.5L536.1 1183.9L538.1 1180.2L540.1 1176.5L542.1 1172.8L544.1 1168.9L546.1 1165.1L548.1 1161.3L550.1 1157.4L552.1 1153.5L554.1 1149.6L556.1 1145.8L558.1 1141.9L560.1 1138.1L562.1 1134.4L564.1 1130.6L566.1 1127.0L568.1 1123.3L570.1 1119.8L572.1 1116.3L574.1 1113.0L576.1 1109.7L578.1 1106.6L580.1 1103.5L582.1 1100.6L584.1 1097.8L586.1 1095.2L588.1 1092.7L590.1 1090.4L592.1 1088.2L594.1 1086.2L596.1 1084.4L598.1 1082.8L600.1 1081.3L602.1 1080.1L604.1 1079.0L606.1 1078.2L608.1 1077.5L610.1 1077.1L612.1 1076.8L614.1 1076.8L616.1 1077.0L618.1 1077.4L620.1 1077.9L622.1 1078.7L624.1 1079.7L626.1 1080.9L628.1 1082.2L630.1 1083.8L632.1 1085.5L634.1 1087.5L636.1 1089.6L638.1 1091.9L640.1 1094.4L642.1 1097.1L644.1 1100.0L646.1 1103.0L648.1 1106.1L650.1 1109.5L652.1 1113.0L654.1 1116.6L656.1 1120.4L658.1 1124.3L660.1 1128.4L662.1 1132.6L664.1 1136.9L666.1 1141.3L668.1 1145.9L670.1 1150.5L672.1 1155.2L674.1 1160.1L676.1 1165.0L678.1 1169.9L680.1 1175.0L682.1 1180.1L684.1 1185.3L686.1 1190.5L688.1 1195.7L690.1 1201.0L692.1 1206.2L694.1 1211.5L696.1 1216.8L698.1 1222.1L700.1 1227.4L702.1 1232.6L704.1 1237.8L706.1 1243.0L708.1 1248.1L710.1 1253.2L712.1 1258.2L714.1 1263.1L716.1 1267.9L718.1 1272.6L720.1 1277.2L722.1 1281.7L724.1 1286.0L726.1 1290.2L728.1 1294.3L730.1 1298.2L732.1 1301.9L734.1 1305.5L736.1 1308.8L738.1 1312.0L740.1 1314.9L742.1 1317.7L744.1 1320.2L746.1 1322.6L748.1 1324.6L750.1 1326.5L752.1 1328.1L754.1 1329.4L756.1 1330.5L758.1 1331.4L760.1 1332.0L762.1 1332.3L764.1 1332.4L766.1 1332.2L768.1 1331.7L770.1 1330.9L772.1 1329.7L774.1 1328.3L776.1 1326.6L778.1 1324.6L780.1 1322.3L782.1 1319.7L784.1 1316.9L786.1 1313.7L788.1 1310.3L790.1 1306.7L792.1 1302.7L794.1 1298.5L796.1 1294.0L798.1 1289.3L800.1 1284.4L802.1 1279.2L804.1 1273.8L806.1 1268.1L808.1 1262.3L810.1 1256.2L812.1 1249.9L814.1 1243.4L816.1 1236.7L818.1 1229.8L820.1 1222.8L822.1 1215.5L824.1 1208.1L826.1 1200.6L828.1 1192.9L830.1 1185.0L832.1 1177.0L834.1 1168.9L836.1 1160.6L838.1 1152.3L840.1 1143.9L842.1 1135.4L844.1 1126.8L846.1 1118.2L848.1 1109.5L850.1 1100.9L852.1 1092.3L854.1 1083.7L856.1 1075.1L858.1 1066.7L860.1 1058.3L862.1 1050.2L864.1 1042.1L866.1 1034.3L868.1 1026.8L870.1 1019.5L872.1 1012.5L874.1 1005.8L876.1 999.5L878.1 993.6L880.1 988.1L882.1 983.2L884.1 978.6L886.1 974.7L888.1 971.2L890.1 968.3L892.1 966.0L894.1 964.3L896.1 963.2L898.1 962.7L900.1 962.9L902.1 963.6L904.1 965.1L906.1 967.1L908.1 969.8L910.1 973.1L912.1 976.9L914.1 981.3L916.1 986.2L918.1 991.5L920.1 997.3L922.1 1003.5L924.1 1010.0L926.1 1016.8L928.1 1023.9L930.1 1031.3L932.1 1038.8L934.1 1046.5L936.1 1054.4L938.1 1062.3L940.1 1070.3L942.1 1078.3L944.1 1086.4L946.1 1094.4L948.1 1102.5L950.1 1110.5L952.1 1118.4L954.1 1126.3L956.1 1134.1L958.1 1141.8L960.1 1149.5L962.1 1157.0L964.1 1164.5L966.1 1171.9L968.1 1179.2L970.1 1186.5L972.1 1193.6L974.1 1200.7L976.1 1207.7L978.1 1214.6L980.1 1221.5L982.1 1228.3L984.1 1235.0L986.1 1241.6L988.1 1248.2L990.1 1254.7L992.1 1261.1L994.1 1267.4L996.1 1273.7L998.1 1279.8L1000.1 1285.9L1002.1 1291.9L1004.1 1297.7L1006.1 1303.4L1008.1 1309.0L1010.1 1314.5L1012.1 1319.8L1014.1 1324.9L1016.1 1329.9L1018.1 1334.7L1020.1 1339.2L1022.1 1343.6L1024.1 1347.7L1026.1 1351.6L1028.1 1355.3L1030.1 1358.7L1032.1 1361.8L1034.1 1364.6L1036.1 1367.1L1038.1 1369.3L1040.1 1371.3L1042.1 1372.9L1044.1 1374.1L1046.1 1375.1L1048.1 1375.7L1050.1 1376.0L1052.1 1375.9L1054.1 1375.6L1056.1 1374.9L1058.1 1374.0L1060.1 1372.7L1062.1 1371.1L1064.1 1369.2L1066.1 1366.8L1068.1 1364.1L1070.1 1361.1L1072.1 1357.6L1074.1 1353.6L1076.1 1349.2L1078.1 1344.4L1080.1 1339.1L1082.1 1333.3L1084.1 1327.1L1086.1 1320.4L1088.1 1313.2L1090.1 1305.6L1092.1 1297.5L1094.1 1289.1L1096.1 1280.2L1098.1 1271.0L1100.1 1261.5L1102.1 1251.8L1104.1 1241.7L1106.1 1231.5L1108.1 1221.1L1110.1 1210.6L1112.1 1200.0L1114.1 1189.3L1116.1 1178.6L1118.1 1167.9L1120.1 1157.1L1122.1 1146.4L1124.1 1135.7L1126.1 1125.1L1128.1 1114.5L1130.1 1103.9L1132.1 1093.4L1134.1 1083.0L1136.1 1072.6L1138.1 1062.3L1140.1 1052.0L1142.1 1041.8L1144.1 1031.7L1146.1 1021.7L1148.1 1011.9L1150.1 1002.2L1152.1 992.7L1154.1 983.4L1156.1 974.4L1158.1 965.8L1160.1 957.5L1162.1 949.8L1164.1 942.5L1166.1 935.8L1168.1 929.8L1170.1 924.5L1172.1 919.9L1174.1 916.2L1176.1 913.4L1178.1 911.4L1180.1 910.4L1182.1 910.3L1184.1 911.5L1186.1 914.0L1188.1 917.8L1190.1 922.7L1192.1 928.8L1194.1 935.9L1196.1 943.9L1198.1 952.7L1200.1 962.1L1202.1 972.1L1204.1 982.5L1206.1 993.2L1208.1 1004.1L1210.1 1015.0L1212.1 1025.9L1214.1 1036.7L1216.1 1047.2L1218.1 1057.5L1220.1 1067.6L1222.1 1077.2L1224.1 1086.5L1226.1 1095.5L1228.1 1104.0L1230.1 1112.1L1232.1 1119.9L1234.1 1127.2L1236.1 1134.2L1238.1 1140.8L1240.1 1147.1L1242.1 1153.1L1244.1 1158.9L1246.1 1164.3L1248.1 1169.6L1250.1 1174.6L1252.1 1179.5L1254.1 1184.1L1256.1 1188.7L1258.1 1193.1L1260.1 1197.4L1262.1 1201.6L1264.1 1205.7L1266.1 1209.7L1268.1 1213.7L1270.1 1217.6L1272.1 1221.4L1274.1 1225.2L1276.1 1228.9L1278.1 1232.6L1280.1 1236.1L1282.1 1239.6L1284.1 1243.1L1286.1 1246.4L1288.1 1249.7L1290.1 1252.8L1292.1 1255.9L1294.1 1258.8L1296.1 1261.6L1298.1 1264.3L1300.1 1266.8L1302.1 1269.2L1304.1 1271.5L1306.1 1273.6L1308.1 1275.5L1310.1 1277.3L1312.1 1278.9L1314.1 1280.4L1316.1 1281.7L1318.1 1282.8L1320.1 1283.7L1322.1 1284.5L1324.1 1285.1L1326.1 1285.6L1328.1 1285.8L1330.1 1285.9L1332.1 1285.8L1334.1 1285.5L1336.1 1284.9L1338.1 1284.2L1340.1 1283.2L1342.1 1282.1L1344.1 1280.7L1346.1 1279.1L1348.1 1277.3L1350.1 1275.3L1352.1 1273.1L1354.1 1270.8L1356.1 1268.2L1358.1 1265.4L1360.1 1262.5L1362.1 1259.4L1364.1 1256.1L1366.1 1252.6L1368.1 1249.0L1370.1 1245.2L1372.1 1241.2L1374.1 1237.1L1376.1 1232.9L1378.1 1228.5L1380.1 1223.9L1382.1 1219.3L1384.1 1214.5L1386.1 1209.6L1388.1 1204.5L1390.1 1199.4L1392.1 1194.2L1394.1 1188.8L1396.1 1183.4L1398.1 1177.9L1400.1 1172.3L1402.1 1166.7L1404.1 1161.0L1406.1 1155.3L1408.1 1149.5L1410.1 1143.7L1412.1 1137.9L1414.1 1132.0L1416.1 1126.2L1418.1 1120.4L1420.1 1114.7L1422.1 1109.0L1424.1 1103.3L1426.1 1097.7L1428.1 1092.3L1430.1 1086.9L1432.1 1081.6L1434.1 1076.5L1436.1 1071.6L1438.1 1066.8L1440.1 1062.2L1442.1 1057.8L1444.1 1053.6L1446.1 1049.7L1448.1 1046.0L1450.1 1042.5L1452.1 1039.4L1454.1 1036.5L1456.1 1034.0L1458.1 1031.7L1460.1 1029.8L1462.1 1028.2L1464.1 1027.0L1466.1 1026.1L1468.1 1025.5L1470.1 1025.3L1472.1 1025.4L1474.1 1025.9L1476.1 1026.7L1478.1 1027.8L1480.1 1029.3L1482.1 1031.0L1484.1 1033.1L1486.1 1035.5L1488.1 1038.2L1490.1 1041.2L1492.1 1044.4L1494.1 1048.0L1496.1 1051.8L1498.1 1055.8L1500.1 1060.1L1502.1 1064.7L1504.1 1069.4L1506.1 1074.4L1508.1 1079.5L1510.1 1084.9L1512.1 1090.4L1514.1 1096.1L1516.1 1101.9L1518.1 1107.9L1520.1 1114.0L1522.1 1120.3L1524.1 1126.6L1526.1 1133.1L1528.1 1139.6L1530.1 1146.2L1532.1 1152.9L1534.1 1159.7L1536.1 1166.5L1538.1 1173.3L1540.1 1180.2L1542.1 1187.2L1544.1 1194.1L1546.1 1201.1L1548.1 1208.1L1550.1 1215.0L1552.1 1222.0L1554.1 1228.9L1556.1 1235.8L1558.1 1242.7L1560.1 1249.5L1562.1 1256.3L1564.1 1263.1L1566.1 1269.7L1568.1 1276.3L1570.1 1282.8L1572.1 1289.1L1574.1 1295.4L1576.1 1301.5L1578.1 1307.5L1580.1 1313.4L1582.1 1319.1L1584.1 1324.6L1586.1 1330.0L1588.1 1335.1L1590.1 1340.0L1592.1 1344.7L1594.1 1349.2L1596.1 1353.5L1598.1 1357.4L1600.1 1361.1L1602.1 1364.6L1604.1 1367.7L1606.1 1370.5L1608.1 1373.0L1610.1 1375.2L1612.1 1377.1L1614.1 1378.7L1616.1 1379.9L1618.1 1380.8L1620.1 1381.3L1622.1 1381.5L1624.1 1381.3L1626.1 1380.9L1628.1 1380.0L1630.1 1378.9L1632.1 1377.3L1634.1 1375.5L1636.1 1373.3L1638.1 1370.7L1640.1 1367.8L1642.1 1364.5L1644.1 1360.8L1646.1 1356.8L1648.1 1352.3L1650.1 1347.5L1652.1 1342.3L1654.1 1336.7L1656.1 1330.7L1658.1 1324.3L1660.1 1317.5L1662.1 1310.3L1664.1 1302.7L1666.1 1294.7L1668.1 1286.3L1670.1 1277.5L1672.1 1268.3L1674.1 1258.7L1676.1 1248.8L1678.1 1238.5L1680.1 1228.0L1682.1 1217.0L1684.1 1205.9L1686.1 1194.4L1688.1 1182.7L1690.1 1170.8L1692.1 1158.8L1694.1 1146.5L1696.1 1134.2L1698.1 1121.8L1700.1 1109.4L1702.1 1097.0L1704.1 1084.6L1706.1 1072.4L1708.1 1060.2L1710.1 1048.2L1712.1 1036.5L1714.1 1025.0L1716.1 1013.8L1718.1 1003.0L1720.1 992.5L1722.1 982.5L1724.1 972.9L1726.1 963.9L1728.1 955.3L1730.1 947.4L1732.1 940.0L1734.1 933.3L1736.1 927.2L1738.1 921.8L1740.1 917.1L1742.1 913.1L1744.1 909.8L1746.1 907.3L1748.1 905.5L1750.1 904.5L1752.1 904.3L1754.1 906.0L1756.1 909.7L1758.1 915.1L1760.1 922.0L1762.1 929.9L1764.1 938.7L1766.1 948.1L1768.1 957.9L1770.1 967.6L1772.1 976.9L1774.1 986.2L1776.1 995.5L1778.1 1005.2L1780.1 1015.0L1782.1 1024.8L1784.1 1034.6L1786.1 1044.5L1788.1 1054.4L1790.1 1064.2L1792.1 1073.8L1794.1 1083.0L1796.1 1091.7L1798.1 1100.2L1800.1 1108.3L1802.1 1116.3L1804.1 1124.4L1806.1 1132.2L1808.1 1139.5L1810.1 1146.0L1812.1 1151.4L1814.1 1155.8L1816.1 1159.6L1818.1 1163.4L1820.1 1167.9L1822.1 1172.9L1824.1 1178.0L1826.1 1182.8L1828.1 1187.4L1830.1 1191.7L1832.1 1196.0L1834.1 1200.1L1836.1 1204.2L1838.1 1208.1L1840.1 1212.0L1842.1 1215.7L1844.1 1219.3L1846.1 1222.8L1848.1 1226.1L1850.1 1229.3L1852.1 1232.4L1854.1 1235.3L1856.1 1238.1L1858.1 1240.8L1860.1 1243.4L1862.1 1245.9L1864.1 1248.2L1866.1 1250.4L1868.1 1252.5L1870.1 1254.4L1872.1 1256.2L1874.1 1257.9L1876.1 1259.5L1878.1 1260.9L1880.1 1262.2L1882.1 1263.4L1884.1 1264.4L1886.1 1265.3L1888.1 1266.1L1890.1 1266.8L1892.1 1267.3L1894.1 1267.7L1896.1 1268.0L1898.1 1268.2L1900.1 1268.3L1902.1 1268.2L1904.1 1267.9L1906.1 1267.3L1908.1 1266.5L1910.1 1265.5L1912.1 1264.3L1914.1 1262.9L1916.1 1261.4L1918.1 1259.7L1920.1 1257.9L1922.1 1255.9L1924.1 1253.8L1926.1 1251.6L1928.1 1249.3L1930.1 1246.8L1932.1 1244.3L1934.1 1241.8L1936.1 1239.3L1938.1 1236.9L1940.1 1234.3L1942.1 1231.6L1944.1 1228.6L1946.1 1225.3L1948.1 1221.6L1950.1 1217.7L1952.1 1213.5L1954.1 1209.2L1956.1 1204.5L1958.1 1199.7L1960.1 1195.0L1962.1 1190.2L1964.1 1185.4L1966.1 1180.5L1968.1 1175.6L1970.1 1170.6L1972.1 1165.6L1974.1 1160.4L1976.1 1155.3L1978.1 1150.2L1980.1 1145.5L1982.1 1140.9L1984.1 1136.4L1986.1 1131.9L1988.1 1127.3L1990.1 1122.6L1992.1 1117.9L1994.1 1113.4L1996.1 1109.2L1998.1 1105.3L2000.1 1101.5L2002.1 1097.9L2004.1 1094.4L2006.1 1091.1L2008.1 1088.0L2010.1 1085.1L2012.1 1082.5L2014.1 1079.8L2016.1 1077.0L2018.1 1074.1L2020.1 1071.1L2022.1 1068.2L2024.1 1065.3L2026.1 1062.6L2028.1 1060.0L2030.1 1057.7L2032.1 1055.5L2034.1 1053.6L2036.1 1052.1L2038.1 1051.0L2040.1 1050.2L2042.1 1050.0L2044.1 1050.1L2046.1 1050.5L2048.1 1051.1L2050.1 1051.9L2052.1 1053.0L2054.1 1054.3L2056.1 1055.8L2058.1 1057.5L2060.1 1059.5L2062.1 1061.7L2064.1 1064.1L2066.1 1066.7L2068.1 1069.5L2070.1 1072.6L2072.1 1075.8L2074.1 1079.2L2076.1 1082.8L2078.1 1086.6L2080.1 1090.5L2082.1 1094.7L2084.1 1099.0L2086.1 1103.5L2088.1 1108.1L2090.1 1112.9L2092.1 1117.8L2094.1 1122.8L2096.1 1128.0L2098.1 1133.3L2100.1 1138.8L2102.1 1144.3L2104.1 1150.0L2106.1 1155.7L2108.1 1161.6L2110.1 1167.5L2112.1 1173.5L2114.1 1179.6L2116.1 1185.7L2118.1 1191.9L2120.1 1198.2L2122.1 1204.5L2124.1 1210.8L2126.1 1217.2L2128.1 1223.5L2130.1 1229.9L2132.1 1236.2L2134.1 1242.5L2136.1 1248.8L2138.1 1255.1L2140.1 1261.3L2142.1 1267.4L2144.1 1273.5L2146.1 1279.4L2148.1 1285.3L2150.1 1291.0L2152.1 1296.6L2154.1 1302.1L2156.1 1307.4L2158.1 1312.5L2160.1 1317.4L2162.1 1322.1L2164.1 1326.6L2166.1 1330.9L2168.1 1334.9L2170.1 1338.7L2172.1 1342.2L2174.1 1345.4L2176.1 1348.3L2178.1 1350.9L2180.1 1353.3L2182.1 1355.3L2184.1 1356.9L2186.1 1358.3L2188.1 1359.3L2190.1 1359.9L2192.1 1360.3L2194.1 1360.2L2196.1 1359.8L2198.1 1359.1L2200.1 1357.9L2202.1 1356.3L2204.1 1354.4L2206.1 1352.1L2208.1 1349.4L2210.1 1346.3L2212.1 1342.9L2214.1 1339.0L2216.1 1334.8L2218.1 1330.3L2220.1 1325.4L2222.1 1320.1L2224.1 1314.5L2226.1 1308.5L2228.1 1302.2L2230.1 1295.6L2232.1 1288.6L2234.1 1281.4L2236.1 1273.9L2238.1 1266.1L2240.1 1258.0L2242.1 1249.8L2244.1 1241.2L2246.1 1232.5L2248.1 1223.6L2250.1 1214.6L2252.1 1205.4L2254.1 1196.0L2256.0 1187.1"/>
<path stroke="#ff00ff" d="M424.1 1222.2L426.1 1224.3L428.1 1226.4L430.1 1228.4L432.1 1230.4L434.1 1232.3L436.1 1234.0L438.1 1235.8L440.1 1237.4L442.1 1238.9L444.1 1240.4L446.1 1241.7L448.1 1243.0L450.1 1244.1L452.1 1245.2L454.1 1246.1L456.1 1246.9L458.1 1247.7L460.1 1248.3L462.1 1248.8L464.1 1249.2L466.1 1249.5L468.1 1249.6L470.1 1249.7L472.1 1249.6L474.1 1249.5L476.1 1249.1L478.1 1248.7L480.1 1248.1L482.1 1247.5L484.1 1246.6L486.1 1245.7L488.1 1244.6L490.1 1243.5L492.1 1242.1L494.1 1240.7L496.1 1239.2L498.1 1237.5L500.1 1235.7L502.1 1233.7L504.1 1231.7L506.1 1229.5L508.1 1227.2L510.1 1224.8L512.1 1222.3L514.1 1219.6L516.1 1216.9L518.1 1214.0L520.1 1211.1L522.1 1208.0L524.1 1204.8L526.1 1201.6L528.1 1198.2L530.1 1194.8L532.1 1191.3L534.1 1187.7L536.1 1184.1L538.1 1180.4L540.1 1176.6L542.1 1172.8L544.1 1169.0L546.1 1165.1L548.1 1161.2L550.1 1157.3L552.1 1153.4L554.1 1149.5L556.1 1145.6L558.1 1141.7L560.1 1137.9L562.1 1134.1L564.1 1130.4L566.1 1126.7L568.1 1123.1L570.1 1119.6L572.1 1116.2L574.1 1112.9L576.1 1109.6L578.1 1106.5L580.1 1103.6L582.1 1100.7L584.1 1098.0L586.1 1095.5L588.1 1093.0L590.1 1090.8L592.1 1088.7L594.1 1086.8L596.1 1085.1L598.1 1083.5L600.1 1082.1L602.1 1080.9L604.1 1079.9L606.1 1079.1L608.1 1078.5L610.1 1078.1L612.1 1077.8L614.1 1077.8L616.1 1078.0L618.1 1078.3L620.1 1078.9L622.1 1079.6L624.1 1080.6L626.1 1081.7L628.1 1083.0L630.1 1084.5L632.1 1086.2L634.1 1088.1L636.1 1090.2L638.1 1092.4L640.1 1094.9L642.1 1097.5L644.1 1100.3L646.1 1103.2L648.1 1106.3L650.1 1109.6L652.1 1113.0L654.1 1116.6L656.1 1120.4L658.1 1124.2L660.1 1128.3L662.1 1132.4L664.1 1136.7L666.1 1141.1L668.1 1145.6L670.1 1150.3L672.1 1155.0L674.1 1159.8L676.1 1164.8L678.1 1169.8L680.1 1174.8L682.1 1180.0L684.1 1185.1L686.1 1190.4L688.1 1195.7L690.1 1201.0L692.1 1206.3L694.1 1211.6L696.1 1216.9L698.1 1222.3L700.1 1227.6L702.1 1232.8L704.1 1238.1L706.1 1243.2L708.1 1248.4L710.1 1253.4L712.1 1258.4L714.1 1263.3L716.1 1268.1L718.1 1272.8L720.1 1277.3L722.1 1281.8L724.1 1286.1L726.1 1290.2L728.1 1294.2L730.1 1298.1L732.1 1301.7L734.1 1305.2L736.1 1308.5L738.1 1311.6L740.1 1314.5L742.1 1317.2L744.1 1319.6L746.1 1321.9L748.1 1323.9L750.1 1325.7L752.1 1327.2L754.1 1328.5L756.1 1329.6L758.1 1330.4L760.1 1331.0L762.1 1331.3L764.1 1331.4L766.1 1331.2L768.1 1330.7L770.1 1329.9L772.1 1328.8L774.1 1327.4L776.1 1325.8L778.1 1323.8L780.1 1321.6L782.1 1319.0L784.1 1316.2L786.1 1313.2L788.1 1309.8L790.1 1306.2L792.1 1302.3L794.1 1298.2L796.1 1293.8L798.1 1289.2L800.1 1284.3L802.1 1279.2L804.1 1273.8L806.1 1268.2L808.1 1262.4L810.1 1256.4L812.1 1250.1L814.1 1243.7L816.1 1237.0L818.1 1230.1L820.1 1223.1L822.1 1215.8L824.1 1208.4L826.1 1200.8L828.1 1193.1L830.1 1185.2L832.1 1177.1L834.1 1169.0L836.1 1160.7L838.1 1152.3L840.1 1143.8L842.1 1135.2L844.1 1126.6L846.1 1117.9L848.1 1109.2L850.1 1100.6L852.1 1091.9L854.1 1083.3L856.1 1074.8L858.1 1066.4L860.1 1058.1L862.1 1049.9L864.1 1042.0L866.1 1034.2L868.1 1026.8L870.1 1019.6L872.1 1012.7L874.1 1006.1L876.1 1000.0L878.1 994.2L880.1 988.9L882.1 984.0L884.1 979.7L886.1 975.8L888.1 972.4L890.1 969.6L892.1 967.4L894.1 965.8L896.1 964.7L898.1 964.2L900.1 964.4L902.1 965.1L904.1 966.5L906.1 968.5L908.1 971.1L910.1 974.2L912.1 978.0L914.1 982.2L916.1 987.0L918.1 992.2L920.1 997.8L922.1 1003.9L924.1 1010.3L926.1 1017.0L928.1 1024.0L930.1 1031.2L932.1 1038.7L934.1 1046.3L936.1 1054.1L938.1 1062.0L940.1 1070.0L942.1 1078.0L944.1 1086.1L946.1 1094.2L948.1 1102.2L950.1 1110.2L952.1 1118.2L954.1 1126.2L956.1 1134.0L958.1 1141.8L960.1 1149.5L962.1 1157.1L964.1 1164.7L966.1 1172.1L968.1 1179.5L970.1 1186.7L972.1 1193.9L974.1 1201.0L976.1 1208.0L978.1 1214.9L980.1 1221.7L982.1 1228.4L984.1 1235.1L986.1 1241.7L988.1 1248.2L990.1 1254.7L992.1 1261.0L994.1 1267.3L996.1 1273.5L998.1 1279.7L1000.1 1285.7L1002.1 1291.6L1004.1 1297.5L1006.1 1303.2L1008.1 1308.8L1010.1 1314.3L1012.1 1319.7L1014.1 1324.8L1016.1 1329.9L1018.1 1334.7L1020.1 1339.4L1022.1 1343.9L1024.1 1348.1L1026.1 1352.1L1028.1 1355.9L1030.1 1359.4L1032.1 1362.6L1034.1 1365.5L1036.1 1368.2L1038.1 1370.5L1040.1 1372.5L1042.1 1374.2L1044.1 1375.5L1046.1 1376.5L1048.1 1377.2L1050.1 1377.5L1052.1 1377.4L1054.1 1377.1L1056.1 1376.4L1058.1 1375.4L1060.1 1374.1L1062.1 1372.5L1064.1 1370.5L1066.1 1368.1L1068.1 1365.3L1070.1 1362.2L1072.1 1358.6L1074.1 1354.5L1076.1 1350.1L1078.1 1345.1L1080.1 1339.7L1082.1 1333.8L1084.1 1327.4L1086.1 1320.6L1088.1 1313.3L1090.1 1305.6L1092.1 1297.4L1094.1 1288.9L1096.1 1279.9L1098.1 1270.7L1100.1 1261.1L1102.1 1251.3L1104.1 1241.3L1106.1 1231.0L1108.1 1220.7L1110.1 1210.2L1112.1 1199.6L1114.1 1189.0L1116.1 1178.4L1118.1 1167.7L1120.1 1157.1L1122.1 1146.5L1124.1 1135.9L1126.1 1125.3L1128.1 1114.8L1130.1 1104.4L1132.1 1093.9L1134.1 1083.5L1136.1 1073.2L1138.1 1062.9L1140.1 1052.6L1142.1 1042.4L1144.1 1032.2L1146.1 1022.2L1148.1 1012.2L1150.1 1002.4L1152.1 992.7L1154.1 983.3L1156.1 974.1L1158.1 965.2L1160.1 956.8L1162.1 948.8L1164.1 941.4L1166.1 934.5L1168.1 928.3L1170.1 922.9L1172.1 918.3L1174.1 914.5L1176.1 911.6L1178.1 909.7L1180.1 908.8L1182.1 908.9L1184.1 910.3L1186.1 913.0L1188.1 916.9L1190.1 922.0L1192.1 928.2L1194.1 935.4L1196.1 943.6L1198.1 952.4L1200.1 962.0L1202.1 972.0L1204.1 982.5L1206.1 993.3L1208.1 1004.2L1210.1 1015.1L1212.1 1026.1L1214.1 1036.9L1216.1 1047.5L1218.1 1057.8L1220.1 1067.9L1222.1 1077.6L1224.1 1086.9L1226.1 1095.8L1228.1 1104.3L1230.1 1112.5L1232.1 1120.2L1234.1 1127.5L1236.1 1134.4L1238.1 1141.0L1240.1 1147.2L1242.1 1153.1L1244.1 1158.7L1246.1 1164.1L1248.1 1169.2L1250.1 1174.0L1252.1 1178.7L1254.1 1183.1L1256.1 1187.4L1258.1 1191.6L1260.1 1195.7L1262.1 1199.6L1264.1 1203.4L1266.1 1207.2L1268.1 1210.9L1270.1 1214.5L1272.1 1218.0L1274.1 1221.5L1276.1 1224.9L1278.1 1228.3L1280.1 1231.6L1282.1 1234.9L1284.1 1238.1L1286.1 1241.2L1288.1 1244.3L1290.1 1247.3L1292.1 1250.2L1294.1 1253.0L1296.1 1255.7L1298.1 1258.3L1300.1 1260.7L1302.1 1263.1L1304.1 1265.3L1306.1 1267.4L1308.1 1269.3L1310.1 1271.1L1312.1 1272.8L1314.1 1274.2L1316.1 1275.6L1318.1 1276.7L1320.1 1277.7L1322.1 1278.5L1324.1 1279.1L1326.1 1279.5L1328.1 1279.8L1330.1 1279.9L1332.1 1279.8L1334.1 1279.5L1336.1 1279.0L1338.1 1278.3L1340.1 1277.5L1342.1 1276.4L1344.1 1275.1L1346.1 1273.7L1348.1 1272.0L1350.1 1270.2L1352.1 1268.1L1354.1 1265.9L1356.1 1263.5L1358.1 1260.9L1360.1 1258.1L1362.1 1255.2L1364.1 1252.1L1366.1 1248.8L1368.1 1245.3L1370.1 1241.7L1372.1 1237.9L1374.1 1234.0L1376.1 1229.9L1378.1 1225.7L1380.1 1221.3L1382.1 1216.8L1384.1 1212.2L1386.1 1207.4L1388.1 1202.6L1390.1 1197.6L1392.1 1192.6L1394.1 1187.5L1396.1 1182.3L1398.1 1177.0L1400.1 1171.6L1402.1 1166.2L1404.1 1160.8L1406.1 1155.3L1408.1 1149.8L1410.1 1144.3L1412.1 1138.8L1414.1 1133.3L1416.1 1127.8L1418.1 1122.4L1420.1 1117.0L1422.1 1111.6L1424.1 1106.3L1426.1 1101.1L1428.1 1096.0L1430.1 1091.0L1432.1 1086.1L1434.1 1081.4L1436.1 1076.7L1438.1 1072.3L1440.1 1068.0L1442.1 1064.0L1444.1 1060.1L1446.1 1056.4L1448.1 1053.0L1450.1 1049.9L1452.1 1046.9L1454.1 1044.3L1456.1 1041.9L1458.1 1039.9L1460.1 1038.1L1462.1 1036.6L1464.1 1035.5L1466.1 1034.6L1468.1 1034.1L1470.1 1033.9L1472.1 1034.0L1474.1 1034.5L1476.1 1035.2L1478.1 1036.3L1480.1 1037.6L1482.1 1039.3L1484.1 1041.2L1486.1 1043.4L1488.1 1045.9L1490.1 1048.7L1492.1 1051.7L1494.1 1055.0L1496.1 1058.6L1498.1 1062.3L1500.1 1066.3L1502.1 1070.5L1504.1 1074.9L1506.1 1079.5L1508.1 1084.3L1510.1 1089.3L1512.1 1094.4L1514.1 1099.7L1516.1 1105.1L1518.1 1110.7L1520.1 1116.4L1522.1 1122.3L1524.1 1128.2L1526.1 1134.3L1528.1 1140.5L1530.1 1146.8L1532.1 1153.1L1534.1 1159.6L1536.1 1166.1L1538.1 1172.7L1540.1 1179.3L1542.1 1186.0L1544.1 1192.8L1546.1 1199.5L1548.1 1206.4L1550.1 1213.2L1552.1 1220.0L1554.1 1226.9L1556.1 1233.7L1558.1 1240.5L1560.1 1247.3L1562.1 1254.0L1564.1 1260.7L1566.1 1267.3L1568.1 1273.8L1570.1 1280.2L1572.1 1286.6L1574.1 1292.8L1576.1 1298.8L1578.1 1304.7L1580.1 1310.5L1582.1 1316.1L1584.1 1321.5L1586.1 1326.7L1588.1 1331.6L1590.1 1336.4L1592.1 1340.9L1594.1 1345.2L1596.1 1349.2L1598.1 1353.0L1600.1 1356.5L1602.1 1359.7L1604.1 1362.7L1606.1 1365.3L1608.1 1367.7L1610.1 1369.7L1612.1 1371.5L1614.1 1372.9L1616.1 1374.0L1618.1 1374.8L1620.1 1375.3L1622.1 1375.5L1624.1 1375.3L1626.1 1374.8L1628.1 1373.8L1630.1 1372.4L1632.1 1370.7L1634.1 1368.6L1636.1 1366.1L1638.1 1363.3L1640.1 1360.1L1642.1 1356.5L1644.1 1352.6L1646.1 1348.3L1648.1 1343.8L1650.1 1338.8L1652.1 1333.6L1654.1 1328.0L1656.1 1322.1L1658.1 1315.9L1660.1 1309.3L1662.1 1302.5L1664.1 1295.3L1666.1 1287.7L1668.1 1279.9L1670.1 1271.7L1672.1 1263.1L1674.1 1254.3L1676.1 1245.1L1678.1 1235.5L1680.1 1225.7L1682.1 1215.5L1684.1 1205.0L1686.1 1194.2L1688.1 1183.1L1690.1 1171.8L1692.1 1160.3L1694.1 1148.6L1696.1 1136.7L1698.1 1124.6L1700.1 1112.5L1702.1 1100.4L1704.1 1088.3L1706.1 1076.2L1708.1 1064.3L1710.1 1052.4L1712.1 1040.9L1714.1 1029.5L1716.1 1018.5L1718.1 1007.8L1720.1 997.6L1722.1 987.8L1724.1 978.4L1726.1 969.6L1728.1 961.3L1730.1 953.7L1732.1 946.6L1734.1 940.1L1736.1 934.3L1738.1 929.1L1740.1 924.6L1742.1 920.8L1744.1 917.7L1746.1 915.2L1748.1 913.5L1750.1 912.4L1752.1 912.1L1754.1 912.7L1756.1 914.6L1758.1 917.7L1760.1 922.0L1762.1 927.4L1764.1 933.8L1766.1 941.1L1768.1 949.2L1770.1 958.0L1772.1 967.4L1774.1 977.2L1776.1 987.3L1778.1 997.7L1780.1 1008.2L1782.1 1018.7L1784.1 1029.2L1786.1 1039.5L1788.1 1049.7L1790.1 1059.5L1792.1 1069.2L1794.1 1078.5L1796.1 1087.4L1798.1 1096.0L1800.1 1104.3L1802.1 1112.2L1804.1 1119.8L1806.1 1127.1L1808.1 1134.0L1810.1 1140.7L1812.1 1147.1L1814.1 1153.3L1816.1 1159.2L1818.1 1164.9L1820.1 1170.4L1822.1 1175.8L1824.1 1181.0L1826.1 1186.0L1828.1 1191.0L1830.1 1195.8L1832.1 1200.6L1834.1 1205.2L1836.1 1209.7L1838.1 1214.2L1840.1 1218.6L1842.1 1222.9L1844.1 1227.0L1846.1 1231.1L1848.1 1235.1L1850.1 1239.0L1852.1 1242.7L1854.1 1246.4L1856.1 1249.9L1858.1 1253.2L1860.1 1256.5L1862.1 1259.5L1864.1 1262.4L1866.1 1265.2L1868.1 1267.7L1870.1 1270.1L1872.1 1272.4L1874.1 1274.4L1876.1 1276.4L1878.1 1278.1L1880.1 1279.7L1882.1 1281.1L1884.1 1282.3L1886.1 1283.5L1888.1 1284.4L1890.1 1285.2L1892.1 1285.9L1894.1 1286.5L1896.1 1286.9L1898.1 1287.1L1900.1 1287.3L1902.1 1287.3L1904.1 1287.1L1906.1 1286.6L1908.1 1286.0L1910.1 1285.1L1912.1 1284.0L1914.1 1282.7L1916.1 1281.2L1918.1 1279.4L1920.1 1277.5L1922.1 1275.3L1924.1 1272.9L1926.1 1270.4L1928.1 1267.6L1930.1 1264.7L1932.1 1261.5L1934.1 1258.2L1936.1 1254.8L1938.1 1251.1L1940.1 1247.3L1942.1 1243.3L1944.1 1239.2L1946.1 1234.9L1948.1 1230.5L1950.1 1225.9L1952.1 1221.2L1954.1 1216.4L1956.1 1211.4L1958.1 1206.3L1960.1 1201.1L1962.1 1195.8L1964.1 1190.4L1966.1 1184.9L1968.1 1179.3L1970.1 1173.6L1972.1 1167.8L1974.1 1162.0L1976.1 1156.2L1978.1 1150.3L1980.1 1144.3L1982.1 1138.4L1984.1 1132.5L1986.1 1126.5L1988.1 1120.6L1990.1 1114.7L1992.1 1108.9L1994.1 1103.1L1996.1 1097.5L1998.1 1091.9L2000.1 1086.5L2002.1 1081.1L2004.1 1076.0L2006.1 1071.0L2008.1 1066.1L2010.1 1061.5L2012.1 1057.1L2014.1 1052.9L2016.1 1048.9L2018.1 1045.2L2020.1 1041.7L2022.1 1038.5L2024.1 1035.6L2026.1 1033.0L2028.1 1030.7L2030.1 1028.7L2032.1 1027.0L2034.1 1025.6L2036.1 1024.5L2038.1 1023.8L2040.1 1023.4L2042.1 1023.3L2044.1 1023.6L2046.1 1024.2L2048.1 1025.1L2050.1 1026.3L2052.1 1027.9L2054.1 1029.8L2056.1 1032.0L2058.1 1034.5L2060.1 1037.3L2062.1 1040.4L2064.1 1043.7L2066.1 1047.4L2068.1 1051.2L2070.1 1055.3L2072.1 1059.6L2074.1 1064.1L2076.1 1068.8L2078.1 1073.7L2080.1 1078.8L2082.1 1084.0L2084.1 1089.4L2086.1 1094.9L2088.1 1100.6L2090.1 1106.3L2092.1 1112.2L2094.1 1118.2L2096.1 1124.2L2098.1 1130.4L2100.1 1136.6L2102.1 1142.9L2104.1 1149.3L2106.1 1155.7L2108.1 1162.2L2110.1 1168.7L2112.1 1175.3L2114.1 1181.9L2116.1 1188.6L2118.1 1195.3L2120.1 1202.0L2122.1 1208.8L2124.1 1215.6L2126.1 1222.3L2128.1 1229.1L2130.1 1235.9L2132.1 1242.7L2134.1 1249.5L2136.1 1256.2L2138.1 1262.9L2140.1 1269.6L2142.1 1276.2L2144.1 1282.7L2146.1 1289.2L2148.1 1295.6L2150.1 1301.8L2152.1 1308.0L2154.1 1314.0L2156.1 1319.8L2158.1 1325.5L2160.1 1330.9L2162.1 1336.2L2164.1 1341.3L2166.1 1346.1L2168.1 1350.6L2170.1 1354.9L2172.1 1358.9L2174.1 1362.6L2176.1 1366.0L2178.1 1369.1L2180.1 1371.8L2182.1 1374.1L2184.1 1376.1L2186.1 1377.7L2188.1 1379.0L2190.1 1379.8L2192.1 1380.3L2194.1 1380.4L2196.1 1380.1L2198.1 1379.4L2200.1 1378.3L2202.1 1376.8L2204.1 1374.9L2206.1 1372.6L2208.1 1370.0L2210.1 1366.9L2212.1 1363.4L2214.1 1359.6L2216.1 1355.3L2218.1 1350.6L2220.1 1345.5L2222.1 1340.0L2224.1 1334.2L2226.1 1327.9L2228.1 1321.2L2230.1 1314.1L2232.1 1306.7L2234.1 1298.9L2236.1 1290.7L2238.1 1282.2L2240.1 1273.4L2242.1 1264.2L2244.1 1254.8L2246.1 1245.1L2248.1 1235.1L2250.1 1224.9L2252.1 1214.6L2254.1 1204.1L2256.0 1194.0"/>
</g>
<path d="M1248.5 1423.0V851.0" fill="none" stroke="#6a6a6a" stroke-width="6.8" stroke-dasharray="20.6 21.05"/>
<rect x="452.9" y="880.2" width="478.6" height="69.8" fill="#fff" stroke="#262626" stroke-width="1.8"/>
<path d="M463.0 914.8H567.3" stroke="#0000ff" stroke-width="7.3" fill="none"/>
<path d="M697.2 914.8H801.5" stroke="#ff00ff" stroke-width="7.3" fill="none"/>
<g font-family='"Liberation Sans", Arial, Helvetica, sans-serif' font-size="52.0" fill="#000"><text transform="translate(575.3 932.2) scale(0.97 1.015)">RK4</text><text transform="translate(807.8 932.2) scale(0.97 1.015)">ODE</text></g>
<g font-family='"Liberation Sans", Arial, Helvetica, sans-serif' font-size="64.0" fill="#262626"><text x="1335.6" y="1573.3" text-anchor="middle">t</text><text transform="translate(324 1142) rotate(-90)" text-anchor="middle">x</text></g>
<g font-family='"Liberation Serif", "DejaVu Serif", serif' fill="#000"><text transform="translate(13.0 1586.8) scale(0.9 1)" font-size="86.7">(</text><text transform="translate(38.7 1587.5) scale(1.03 1)" font-size="87.3" font-weight="bold">b</text><text transform="translate(90.5 1586.8) scale(0.9 1)" font-size="86.7">)</text></g>
</g>
</svg>
</body>
</html>
